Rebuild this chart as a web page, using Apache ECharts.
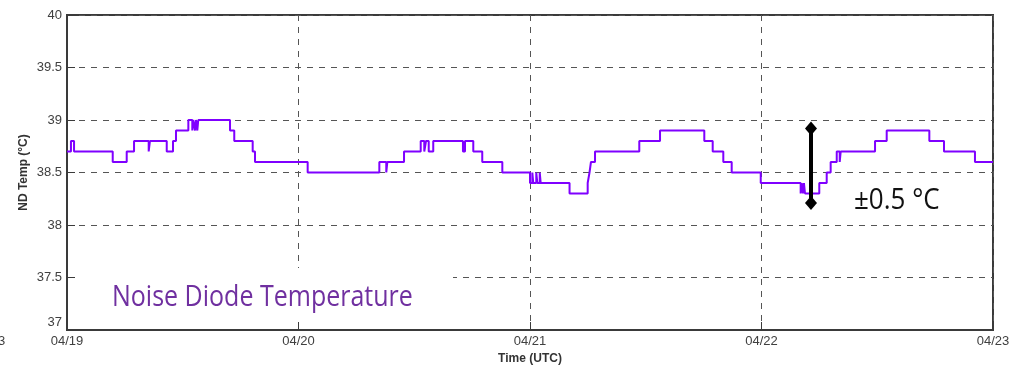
<!DOCTYPE html>
<html>
<head>
<meta charset="utf-8">
<title>Noise Diode Temperature</title>
<script src="https://cdn.jsdelivr.net/npm/echarts@6/dist/echarts.min.js"></script>
<style>
  html, body { margin: 0; padding: 0; background: #fff; }
  #chart { width: 1018px; height: 370px; }
</style>
</head>
<body>
<div id="chart"></div>
<script>
// Hours since 04/19 00:00 UTC at which the noise diode reading changes
const hours = [0, 0.41, 0.73, 4.74, 6.19, 6.95, 8.47, 8.60, 10.34, 10.99,
  11.30, 12.58, 12.99, 13.09, 13.27, 13.37, 13.51, 13.61, 16.90, 17.34,
  19.25, 19.49, 24.95, 32.38, 33.10, 33.21, 34.94, 36.67, 37.04, 37.22,
  37.50, 37.97, 41.05, 41.26, 42.12, 43.05, 45.13, 48.00, 48.24, 48.34,
  48.65, 48.76, 49.01, 49.11, 52.10, 53.98, 54.17, 54.32, 54.74, 59.33,
  61.48, 66.07, 66.94, 68.04, 68.91, 71.92, 76.06, 76.17, 76.30, 76.40,
  76.51, 77.99, 78.76, 79.17, 79.80, 80.11, 80.21, 83.77, 84.98, 89.40,
  90.92, 94.13, 96];

// ND temperature (°C) held from each time above until the next one
const temps = [38.7, 38.8, 38.7, 38.6, 38.7, 38.8, 38.7, 38.8, 38.7, 38.8,
  38.9, 39.0, 38.9, 39.0, 38.9, 39.0, 38.9, 39.0, 38.9, 38.8,
  38.7, 38.6, 38.5, 38.6, 38.5, 38.6, 38.7, 38.8, 38.7, 38.8,
  38.7, 38.8, 38.7, 38.8, 38.7, 38.6, 38.5, 38.4, 38.5, 38.4,
  38.5, 38.4, 38.5, 38.4, 38.3, 38.4, 38.5, 38.6, 38.7, 38.8,
  38.9, 38.8, 38.7, 38.6, 38.5, 38.4, 38.3, 38.4, 38.3, 38.4,
  38.3, 38.4, 38.5, 38.6, 38.7, 38.6, 38.7, 38.8, 38.9, 38.8,
  38.7, 38.6, 38.6];

// Date tick labels, one per day (every 24 h)
const dayLabels = ['04/19', '04/20', '04/21', '04/22', '04/23'];

// Vertical range bar drawn over the 04/22 dip
const rangeBarHour = 77.13;
const rangeBarTemps = [38.92, 38.21];

const chart = echarts.init(document.getElementById('chart'), null, { renderer: 'canvas' });

const seriesData = hours.map((h, i) => [h, temps[i]]);
const rangeData = rangeBarTemps.map(v => [rangeBarHour, v]);

const gridDash = { type: [6, 6], color: '#555', width: 1 };
const axisFont = 'Liberation Sans, Arial, sans-serif';

chart.setOption({
  animation: false,
  backgroundColor: '#ffffff',
  grid: {
    left: 67, right: 25, top: 15, bottom: 40,
    show: true, borderColor: '#3a3a3a', borderWidth: 2, backgroundColor: 'transparent'
  },
  xAxis: {
    type: 'value',
    min: 0, max: 96, interval: 24,
    name: 'Time (UTC)',
    nameLocation: 'middle',
    nameGap: 23,
    nameMoveOverlap: false,
    nameTextStyle: { fontFamily: axisFont, fontSize: 12, fontWeight: 'bold', color: '#333' },
    axisLine: { lineStyle: { color: '#3a3a3a', width: 2 } },
    axisTick: { inside: true, length: 8, lineStyle: { color: '#3a3a3a', width: 1 } },
    axisLabel: {
      margin: 5,
      fontFamily: axisFont, fontSize: 13, color: '#404040',
      formatter: v => dayLabels[Math.round(v / 24)] || ''
    },
    splitLine: { show: true, lineStyle: gridDash }
  },
  yAxis: {
    type: 'value',
    min: 37, max: 40, interval: 0.5,
    name: 'ND Temp (°C)',
    nameLocation: 'middle',
    nameRotate: 90,
    nameGap: 37,
    nameMoveOverlap: false,
    nameTextStyle: { fontFamily: axisFont, fontSize: 12, fontWeight: 'bold', color: '#333' },
    axisLine: { lineStyle: { color: '#3a3a3a', width: 2 } },
    axisTick: { inside: true, length: 8, lineStyle: { color: '#3a3a3a', width: 1 } },
    axisLabel: {
      margin: 5,
      fontFamily: axisFont, fontSize: 13, color: '#404040',
      formatter: v => (v === 37 ? '{low|37}' : String(v)),
      rich: {
        low: { fontFamily: axisFont, fontSize: 13, color: '#404040', padding: [0, 0, 15, 0] }
      }
    },
    splitLine: { show: true, lineStyle: gridDash }
  },
  series: [
    {
      name: 'ND Temp',
      type: 'line',
      step: 'end',
      data: seriesData,
      showSymbol: false,
      lineStyle: { color: '#7f00ff', width: 2 },
      z: 3
    },
    {
      name: 'Range',
      type: 'line',
      data: rangeData,
      symbol: 'diamond',
      symbolSize: [12, 14],
      showSymbol: true,
      itemStyle: { color: '#000' },
      lineStyle: { color: '#000', width: 4 },
      z: 5
    }
  ],
  graphic: {
    elements: [
      {
        // blank panel behind the title text
        type: 'rect', z: 10,
        shape: { x: 76, y: 268, width: 377, height: 53 },
        style: { fill: '#ffffff' }
      },
      {
        type: 'text', z: 11,
        x: 112, y: 298, scaleY: 1.16,
        style: {
          text: 'Noise Diode Temperature',
          font: '25px "Open Sans", "Noto Sans", sans-serif',
          fill: '#7030a0',
          textAlign: 'left', textVerticalAlign: 'middle'
        }
      },
      {
        type: 'text', z: 11,
        x: 854, y: 200, scaleY: 1.15,
        style: {
          text: '±0.5 °C',
          font: '26px "Open Sans", "Noto Sans", sans-serif',
          fill: '#111',
          textAlign: 'left', textVerticalAlign: 'middle'
        }
      },
      {
        type: 'text', z: 11,
        x: -2, y: 341,
        style: {
          text: '3',
          font: '13px "Liberation Sans", Arial, sans-serif',
          fill: '#404040',
          textAlign: 'left', textVerticalAlign: 'middle'
        }
      }
    ]
  }
});
</script>
</body>
</html>
